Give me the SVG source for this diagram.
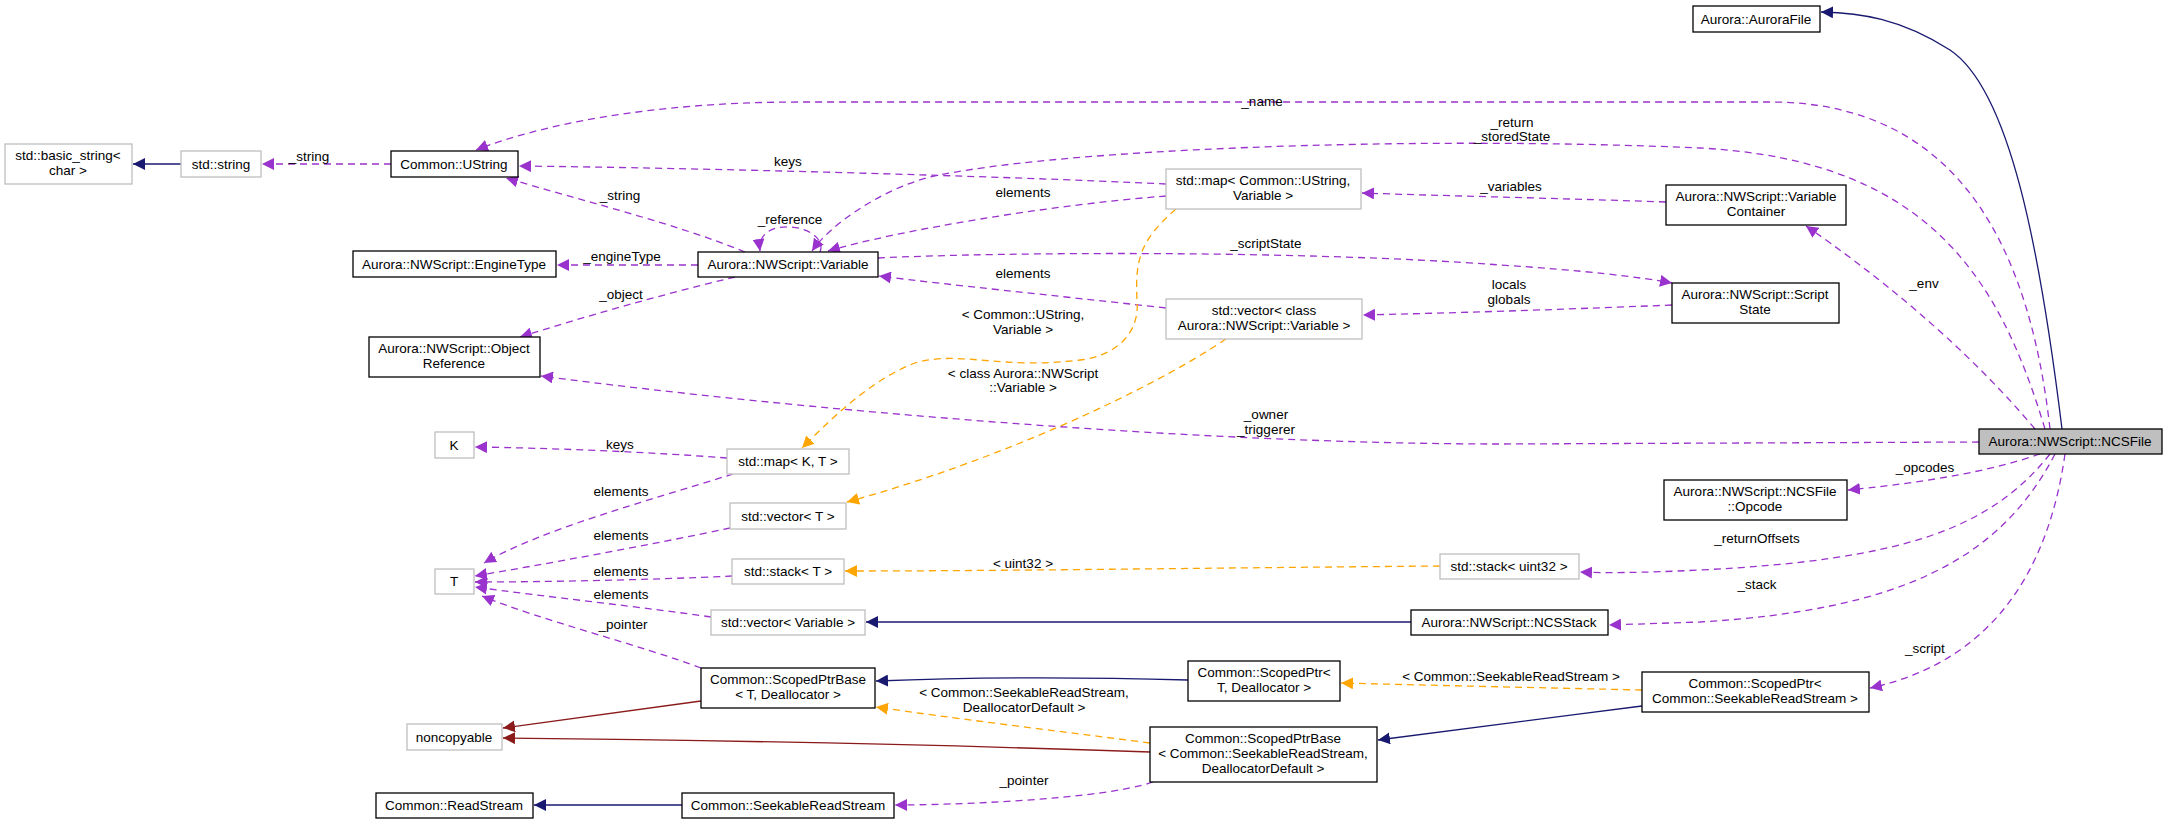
<svg xmlns="http://www.w3.org/2000/svg" width="2167" height="824" viewBox="0 0 2167 824">
<style>
text{font-family:"Liberation Sans",Arial,sans-serif;font-size:13.5px;fill:#000;text-anchor:middle}
.n rect{fill:#fff;stroke:#000;stroke-width:1.3}
.g rect{fill:#fff;stroke:#bfbfbf;stroke-width:1.3}
.c rect{fill:#bfbfbf;stroke:#000;stroke-width:1.3}
.p{fill:none;stroke:#9a32cd;stroke-width:1.3;stroke-dasharray:7,5;marker-end:url(#mp)}
.o{fill:none;stroke:#ffa500;stroke-width:1.3;stroke-dasharray:7,5;marker-end:url(#mo)}
.b{fill:none;stroke:#191970;stroke-width:1.3;marker-end:url(#mb)}
.r{fill:none;stroke:#8b1a1a;stroke-width:1.3;marker-end:url(#mr)}
</style>
<defs>
<marker id="mp" viewBox="0 0 10 10" refX="10" refY="5" markerWidth="12" markerHeight="12" markerUnits="userSpaceOnUse" orient="auto"><path d="M0,0L10,5L0,10z" fill="#9a32cd"/></marker>
<marker id="mo" viewBox="0 0 10 10" refX="10" refY="5" markerWidth="12" markerHeight="12" markerUnits="userSpaceOnUse" orient="auto"><path d="M0,0L10,5L0,10z" fill="#ffa500"/></marker>
<marker id="mb" viewBox="0 0 10 10" refX="10" refY="5" markerWidth="12" markerHeight="12" markerUnits="userSpaceOnUse" orient="auto"><path d="M0,0L10,5L0,10z" fill="#191970"/></marker>
<marker id="mr" viewBox="0 0 10 10" refX="10" refY="5" markerWidth="12" markerHeight="12" markerUnits="userSpaceOnUse" orient="auto"><path d="M0,0L10,5L0,10z" fill="#8b1a1a"/></marker>
</defs>
<g id="edges">
<path class="b" d="M2062,429 C2040,250 2010,90 1950,50 C1900,18 1860,13 1821,12"/>
<path class="p" d="M2050,429 C2030,250 1960,102 1770,102 L800,102 C650,102 540,125 476,150"/>
<text x="1262" y="106">_name</text>
<path class="p" d="M2045,429 C2000,280 1930,160 1700,148 C1400,135 1050,150 930,177 C880,190 830,225 812,251"/>
<text x="1512" y="127">_return</text><text x="1512" y="141">_storedState</text>
<path class="p" d="M2035,429 C1960,340 1870,270 1806,226"/>
<text x="1924" y="288">_env</text>
<path class="p" d="M1666,202 C1550,198 1450,196 1362,193"/>
<text x="1511" y="191">_variables</text>
<path class="p" d="M1672,305 C1550,310 1450,313 1363,315"/>
<text x="1509" y="289">locals</text><text x="1509" y="304">globals</text>
<path class="p" d="M878,258 C1000,252 1300,250 1500,265 C1580,270 1640,277 1672,283"/>
<text x="1266" y="248">_scriptState</text>
<path class="p" d="M1166,184 C1000,176 700,168 519,166"/>
<text x="788" y="166">keys</text>
<path class="p" d="M1166,196 C1050,205 900,230 828,251"/>
<text x="1023" y="197">elements</text>
<path class="p" d="M1166,308 C1050,295 950,285 879,276"/>
<text x="1023" y="278">elements</text>
<path class="p" d="M745,252 C680,225 580,200 506,178"/>
<text x="620" y="200">_string</text>
<path class="p" d="M820,252 C825,240 810,228 790,227 C770,226 758,235 760,251"/>
<text x="790" y="224">_reference</text>
<path class="p" d="M698,265 L557,265"/>
<text x="622" y="261">_engineType</text>
<path class="p" d="M735,277 C660,295 580,318 520,337"/>
<text x="621" y="299">_object</text>
<path class="p" d="M1979,442 L1500,444 C1200,444 800,410 541,376"/>
<text x="1266" y="419">_owner</text><text x="1266" y="434">_triggerer</text>
<path class="p" d="M391,164 L262,164"/>
<text x="309" y="161">_string</text>
<path class="b" d="M181,164 L133,164"/>
<path class="o" d="M1176,209 C1140,240 1135,260 1137,300 C1140,330 1120,355 1080,360 C1000,370 960,350 915,363 C870,380 830,420 802,448"/>
<text x="1023" y="319">&lt; Common::UString,</text><text x="1023" y="334">Variable &gt;</text>
<path class="o" d="M1226,339 C1150,390 1000,460 847,502"/>
<text x="1023" y="378">&lt; class Aurora::NWScript</text><text x="1023" y="392">::Variable &gt;</text>
<path class="p" d="M727,458 C650,452 550,448 475,447"/>
<text x="620" y="449">keys</text>
<path class="p" d="M733,474 C650,500 540,530 484,563"/>
<text x="621" y="496">elements</text>
<path class="p" d="M730,528 C650,545 540,565 475,576"/>
<text x="621" y="540">elements</text>
<path class="p" d="M732,576 C650,580 540,582 475,582"/>
<text x="621" y="576">elements</text>
<path class="p" d="M711,617 C650,608 540,596 475,587"/>
<text x="621" y="599">elements</text>
<path class="p" d="M701,668 C640,645 540,620 482,596"/>
<text x="623" y="629">_pointer</text>
<path class="o" d="M1440,566 C1200,568 1000,571 845,571"/>
<text x="1023" y="568">&lt; uint32 &gt;</text>
<path class="p" d="M2050,454 C1990,530 1900,560 1700,570 C1640,573 1600,573 1580,572"/>
<text x="1757" y="543">_returnOffsets</text>
<path class="b" d="M1411,622 L866,622"/>
<path class="p" d="M2055,454 C2000,560 1900,610 1700,622 L1609,625"/>
<text x="1757" y="589">_stack</text>
<path class="p" d="M2040,454 C1980,475 1900,485 1848,490"/>
<text x="1925" y="472">_opcodes</text>
<path class="p" d="M2065,454 C2050,560 2000,660 1870,688"/>
<text x="1925" y="653">_script</text>
<path class="o" d="M1642,690 C1550,688 1420,685 1341,683"/>
<text x="1511" y="681">&lt; Common::SeekableReadStream &gt;</text>
<path class="b" d="M1188,680 C1050,676 950,678 876,681"/>
<path class="b" d="M1642,706 C1550,718 1450,730 1378,740"/>
<path class="o" d="M1150,743 C1050,730 950,718 876,707"/>
<text x="1024" y="697">&lt; Common::SeekableReadStream,</text><text x="1024" y="712">DeallocatorDefault &gt;</text>
<path class="r" d="M701,701 C620,712 560,720 503,728"/>
<path class="r" d="M1150,752 C950,745 700,740 503,738"/>
<path class="p" d="M1153,782 C1100,800 950,805 895,805"/>
<text x="1024" y="785">_pointer</text>
<path class="b" d="M682,805 L534,805"/>
</g>
<g id="AuroraFile" class="n"><rect x="1693" y="6" width="127" height="26"/><text x="1756" y="24">Aurora::AuroraFile</text></g>
<g id="NCSFile" class="c"><rect x="1979" y="429" width="183" height="25"/><text x="2070" y="446">Aurora::NWScript::NCSFile</text></g>
<g id="UString" class="n"><rect x="391" y="151" width="127" height="26"/><text x="454" y="169">Common::UString</text></g>
<g id="stdstring" class="g"><rect x="181" y="151" width="80" height="26"/><text x="221" y="169">std::string</text></g>
<g id="basicstring" class="g"><rect x="5" y="144" width="127" height="40"/><text x="68" y="160">std::basic_string&lt;</text><text x="68" y="175">char &gt;</text></g>
<g id="EngineType" class="n"><rect x="353" y="251" width="203" height="26"/><text x="454" y="269">Aurora::NWScript::EngineType</text></g>
<g id="ObjectReference" class="n"><rect x="369" y="337" width="171" height="40"/><text x="454" y="353">Aurora::NWScript::Object</text><text x="454" y="368">Reference</text></g>
<g id="Variable" class="n"><rect x="698" y="252" width="180" height="25"/><text x="788" y="269">Aurora::NWScript::Variable</text></g>
<g id="mapUStringVariable" class="g"><rect x="1166" y="169" width="195" height="40"/><text x="1263" y="185">std::map&lt; Common::UString,</text><text x="1263" y="200">Variable &gt;</text></g>
<g id="vectorClassVariable" class="g"><rect x="1166" y="299" width="196" height="40"/><text x="1264" y="315">std::vector&lt; class</text><text x="1264" y="330">Aurora::NWScript::Variable &gt;</text></g>
<g id="VariableContainer" class="n"><rect x="1666" y="185" width="180" height="40"/><text x="1756" y="201">Aurora::NWScript::Variable</text><text x="1756" y="216">Container</text></g>
<g id="ScriptState" class="n"><rect x="1672" y="283" width="167" height="40"/><text x="1755" y="299">Aurora::NWScript::Script</text><text x="1755" y="314">State</text></g>
<g id="K" class="g"><rect x="435" y="432" width="39" height="26"/><text x="454" y="450">K</text></g>
<g id="T" class="g"><rect x="435" y="569" width="39" height="25"/><text x="454" y="586">T</text></g>
<g id="mapKT" class="g"><rect x="727" y="449" width="122" height="25"/><text x="788" y="466">std::map&lt; K, T &gt;</text></g>
<g id="vectorT" class="g"><rect x="730" y="503" width="116" height="26"/><text x="788" y="521">std::vector&lt; T &gt;</text></g>
<g id="stackT" class="g"><rect x="732" y="559" width="112" height="25"/><text x="788" y="576">std::stack&lt; T &gt;</text></g>
<g id="vectorVariable" class="g"><rect x="711" y="610" width="154" height="25"/><text x="788" y="627">std::vector&lt; Variable &gt;</text></g>
<g id="ScopedPtrBaseT" class="n"><rect x="701" y="668" width="174" height="40"/><text x="788" y="684">Common::ScopedPtrBase</text><text x="788" y="699">&lt; T, Deallocator &gt;</text></g>
<g id="noncopyable" class="g"><rect x="407" y="724" width="95" height="26"/><text x="454" y="742">noncopyable</text></g>
<g id="ReadStream" class="n"><rect x="376" y="793" width="157" height="25"/><text x="454" y="810">Common::ReadStream</text></g>
<g id="SeekableReadStream" class="n"><rect x="682" y="793" width="212" height="25"/><text x="788" y="810">Common::SeekableReadStream</text></g>
<g id="Opcode" class="n"><rect x="1664" y="480" width="183" height="40"/><text x="1755" y="496">Aurora::NWScript::NCSFile</text><text x="1755" y="511">::Opcode</text></g>
<g id="stackUint32" class="g"><rect x="1440" y="554" width="139" height="25"/><text x="1509" y="571">std::stack&lt; uint32 &gt;</text></g>
<g id="NCSStack" class="n"><rect x="1411" y="610" width="197" height="25"/><text x="1509" y="627">Aurora::NWScript::NCSStack</text></g>
<g id="ScopedPtrSRS" class="n"><rect x="1642" y="672" width="227" height="40"/><text x="1755" y="688">Common::ScopedPtr&lt;</text><text x="1755" y="703">Common::SeekableReadStream &gt;</text></g>
<g id="ScopedPtrT" class="n"><rect x="1188" y="661" width="152" height="40"/><text x="1264" y="677">Common::ScopedPtr&lt;</text><text x="1264" y="692">T, Deallocator &gt;</text></g>
<g id="ScopedPtrBaseSRS" class="n"><rect x="1150" y="727" width="227" height="55"/><text x="1263" y="743">Common::ScopedPtrBase</text><text x="1263" y="758">&lt; Common::SeekableReadStream,</text><text x="1263" y="773">DeallocatorDefault &gt;</text></g>
</svg>
